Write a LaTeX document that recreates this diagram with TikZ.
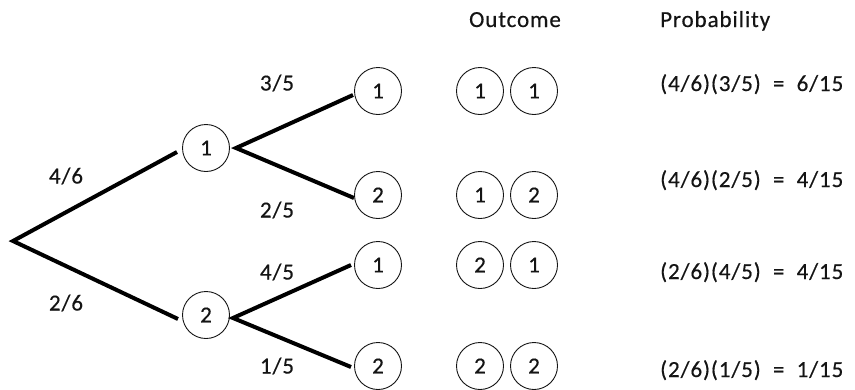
\documentclass[tikz,border=0pt]{standalone}
\usepackage{fontspec}
\setmainfont{Carlito}[LetterSpace=4,FakeBold=0.4]
\definecolor{txt}{HTML}{141414}
\begin{document}
\begin{tikzpicture}[x=1pt,y=-1pt,
  ball/.style={circle,draw=txt,line width=0.9pt,minimum size=47pt,inner sep=0pt,font=\fontsize{23}{26}\selectfont,text=txt},
  lbl/.style={font=\fontsize{23}{26}\selectfont,text=txt,inner sep=0pt},
  branch/.style={line width=4pt,line join=miter,draw=black}]
\useasboundingbox (0,0) rectangle (855,389);
% tree nodes
\node[ball] (a1) at (206,148) {1};
\node[ball] (a2) at (206,315) {2};
\node[ball] (b1) at (378,91) {1};
\node[ball] (b2) at (378,195) {2};
\node[ball] (b3) at (378,265) {1};
\node[ball] (b4) at (378,366) {2};
% outcome balls
\node[ball] (o11) at (480,91) {1};
\node[ball] (o12) at (534,91) {1};
\node[ball] (o21) at (480,195) {1};
\node[ball] (o22) at (534,195) {2};
\node[ball] (o31) at (480,265) {2};
\node[ball] (o32) at (534,265) {1};
\node[ball] (o41) at (480,366) {2};
\node[ball] (o42) at (534,366) {2};
% connector end points
\coordinate (root) at (13,241);
\coordinate (e1) at (177,152);
\coordinate (e2) at (178,319);
\coordinate (v1) at (236,148);
\coordinate (v2) at (233,318);
\coordinate (f1) at (353,95);
\coordinate (f2) at (354,198);
\coordinate (f3) at (351,265);
\coordinate (f4) at (351,367);
\draw[branch] (e1) -- (root) -- (e2);
\draw[branch] (f1) -- (v1) -- (f2);
\draw[branch] (f3) -- (v2) -- (f4);
% branch labels
\node[lbl] (l46) at (66,176) {4/6};
\node[lbl] (l26) at (66,303) {2/6};
\node[lbl] (l35) at (277,83) {3/5};
\node[lbl] (l25) at (277,210) {2/5};
\node[lbl] (l45) at (277,272) {4/5};
\node[lbl] (l15) at (277,366) {1/5};
% headers
\node[lbl,anchor=base] (hout) at (515,27) {Outcome};
\node[lbl,anchor=base west] (hprob) at (660,27) {Probability};
% probabilities
\node[lbl,anchor=base west] (p1) at (660,91) {(4/6)(3/5)\ \ =\ \ 6/15};
\node[lbl,anchor=base west] (p2) at (660,187) {(4/6)(2/5)\ \ =\ \ 4/15};
\node[lbl,anchor=base west] (p3) at (660,279) {(2/6)(4/5)\ \ =\ \ 4/15};
\node[lbl,anchor=base west] (p4) at (660,377) {(2/6)(1/5)\ \ =\ \ 1/15};
\end{tikzpicture}
\end{document}
